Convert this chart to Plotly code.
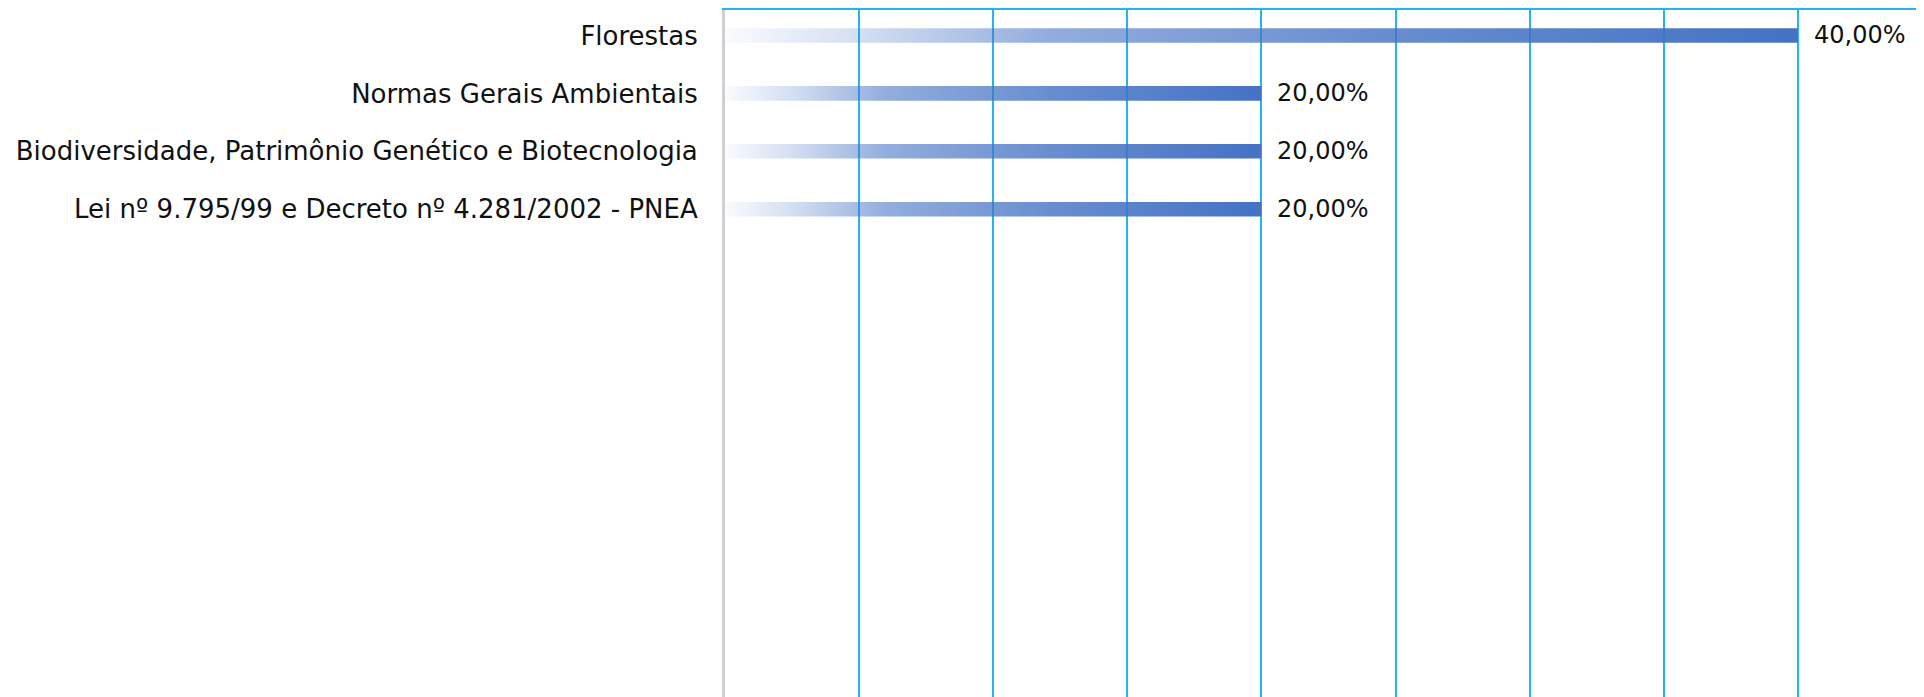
import plotly.graph_objects as go

categories = [
    "Florestas",
    "Normas Gerais Ambientais",
    "Biodiversidade, Patrimônio Genético e Biotecnologia",
    "Lei nº 9.795/99 e Decreto nº 4.281/2002 - PNEA",
]
values = [40.0, 20.0, 20.0, 20.0]

BAR_BLUE = "68,114,196"
GRID_BLUE = "#22b5f2"
FONT = "DejaVu Sans"
HALF = 0.126  # half bar thickness in category units

gradient = [
    [0.0, f"rgba({BAR_BLUE},0.03)"],
    [0.12, f"rgba({BAR_BLUE},0.22)"],
    [0.3, f"rgba({BAR_BLUE},0.58)"],
    [0.6, f"rgba({BAR_BLUE},0.8)"],
    [1.0, f"rgba({BAR_BLUE},1)"],
]

fig = go.Figure()

for i, (cat, v) in enumerate(zip(categories, values)):
    fig.add_trace(go.Scatter(
        x=[0, v, v, 0, 0],
        y=[i - HALF, i - HALF, i + HALF, i + HALF, i - HALF],
        fill="toself",
        fillgradient=dict(type="horizontal", colorscale=gradient),
        mode="lines",
        line=dict(width=0),
        hoverinfo="skip",
        showlegend=False,
    ))

for i, v in enumerate(values):
    fig.add_annotation(
        x=v, y=i,
        text=f"{v:.2f}%".replace(".", ","),
        showarrow=False,
        xanchor="left",
        yanchor="middle",
        xshift=14,
        font=dict(family=FONT, size=24, color="#111111"),
    )

fig.update_layout(
    width=1924,
    height=697,
    margin=dict(l=717, r=0, t=2, b=0),
    paper_bgcolor="white",
    plot_bgcolor="white",
    font=dict(family=FONT, size=26, color="#111111"),
    xaxis=dict(
        range=[0, 45],
        side="top",
        tick0=0,
        dtick=5,
        showticklabels=False,
        showgrid=True,
        gridcolor=GRID_BLUE,
        gridwidth=1.5,
        zeroline=False,
        showline=True,
        linecolor=GRID_BLUE,
        linewidth=2,
    ),
    yaxis=dict(
        range=[11.56, -0.44],
        tickvals=list(range(len(categories))),
        ticktext=categories,
        showgrid=False,
        zeroline=False,
        showline=True,
        linecolor="#d0d0d0",
        linewidth=3,
        ticks="",
        ticklabelstandoff=19,
    ),
)

fig.write_html("out.html")
